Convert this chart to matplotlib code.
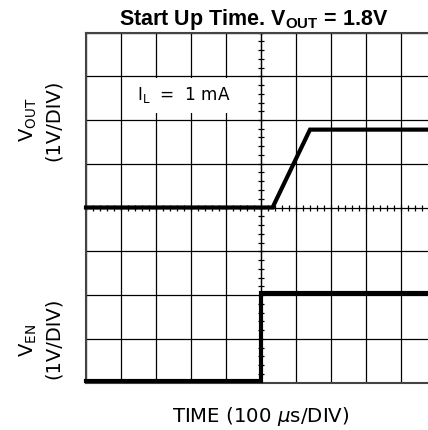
import numpy as np
import matplotlib
matplotlib.use('Agg')
import matplotlib.pyplot as plt
from matplotlib.patches import Rectangle

# scope settings: 100 us/DIV, 1 V/DIV, 10 x 8 divisions
t_div = 100.0
v_div = 1.0
vout_ground = 4   # division of the V_OUT ground line
ven_ground = 0    # division of the V_EN ground line

# traces (time in us, voltage in V)
vout_t = [0, 533, 640, 1000]
vout_v = [0, 0, 1.78, 1.78]
ven_t = [0, 500, 500, 1000]
ven_v = [0, 0, 2.0, 2.0]

lab = 'DejaVu Sans'
plt.rcParams['mathtext.fontset'] = 'custom'
plt.rcParams['mathtext.rm'] = lab
plt.rcParams['mathtext.it'] = lab + ':italic'
plt.rcParams['mathtext.bf'] = 'Liberation Sans:bold'

fig = plt.figure(figsize=(4.28, 4.30), dpi=100)
ax = fig.add_axes([86/428, 47.5/430, 350/428, 350/430])

ax.set_xlim(0, 10)
ax.set_ylim(0, 8)
ax.set_xticks(range(11))
ax.set_yticks(range(9))
ax.tick_params(length=0, labelbottom=False, labelleft=False)
ax.set_axisbelow(True)
ax.grid(True, color='black', lw=0.9)
for s in ax.spines.values():
    s.set_color('#444444')
    s.set_linewidth(1.5)

# minor ticks on the centre lines
minor = np.arange(0, 10.01, 0.2)
ax.plot(minor, np.full(len(minor), 4), ls='none', marker='|', ms=5, mew=0.9, color='black', zorder=2)
minor_y = np.arange(0, 8.01, 0.2)
ax.plot(np.full(len(minor_y), 5), minor_y, ls='none', marker='_', ms=5, mew=0.9, color='black', zorder=2)
ax.axvline(5, color='black', lw=0.9, zorder=2)

# traces
ax.plot(np.array(vout_t) / t_div, np.array(vout_v) / v_div + vout_ground,
        color='black', lw=3, solid_joinstyle='miter', zorder=3, clip_on=False)
ax.plot(np.array(ven_t) / t_div, np.array(ven_v) / v_div + ven_ground + 0.04,
        color='black', lw=3, solid_joinstyle='miter', zorder=3, clip_on=False)

# load current note
ax.add_patch(Rectangle((1.09, 6.16), 3.6, 0.79, facecolor='white', edgecolor='none', zorder=1))
ax.text(1.45, 6.57, r'$\mathrm{I_L}$  =  1 mA', fontsize=12.2, family=lab,
        ha='left', va='center', zorder=4)

fig.text(254/428, 1 - 19/430, r'Start Up Time. $\mathbf{V_{OUT}}$ = 1.8V',
         fontsize=15.5, fontweight='bold', family='Liberation Sans', ha='center', va='center')

fig.text(28/428, 1 - 120/430, r'$\mathrm{V_{OUT}}$', fontsize=14, rotation=90,
         ha='center', va='center')
fig.text(53/428, 1 - 120/430, '(1V/DIV)', fontsize=14, rotation=90,
         ha='center', va='center', family=lab)
fig.text(28/428, 1 - 340/430, r'$\mathrm{V_{EN}}$', fontsize=14, rotation=90,
         ha='center', va='center')
fig.text(53/428, 1 - 338/430, '(1V/DIV)', fontsize=14, rotation=90,
         ha='center', va='center', family=lab)

fig.text(261/428, 1 - 416/430, r'TIME (100 $\mu$s/DIV)', fontsize=14.2,
         ha='center', va='center', family=lab)

fig.savefig('out.png', dpi=100)
